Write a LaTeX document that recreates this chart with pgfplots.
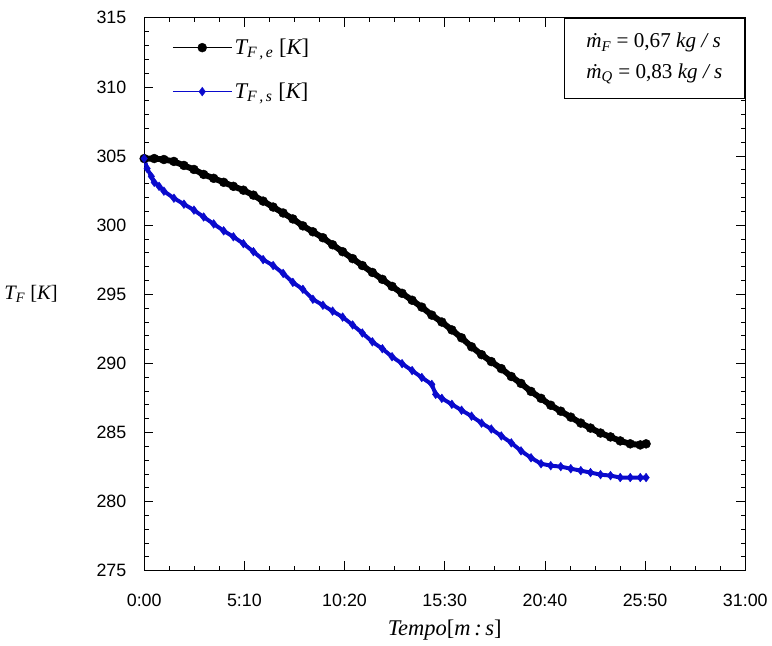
\documentclass[border=0pt]{standalone}
\usepackage{fontspec}
\setmainfont{Liberation Sans}
\newfontfamily\tnr{Liberation Serif}
\usepackage{pgfplots}
\pgfplotsset{compat=1.18}
\definecolor{serieblue}{RGB}{10,10,205}

\pgfplotstableread{
t T
0 304.82
31 304.82
61 304.75
92 304.61
123 304.32
154 304.03
184 303.67
215 303.39
246 303.10
276 302.81
307 302.53
338 302.17
368 301.74
399 301.31
430 300.88
460 300.45
491 299.95
522 299.52
553 299.09
583 298.58
614 298.08
645 297.58
675 297.08
706 296.58
737 296.08
767 295.57
798 295.07
829 294.57
859 294.07
890 293.49
921 292.99
952 292.42
982 291.85
1013 291.20
1044 290.63
1074 290.13
1105 289.62
1136 289.05
1166 288.55
1197 287.97
1228 287.47
1258 286.97
1289 286.54
1320 286.11
1351 285.68
1381 285.32
1412 284.96
1443 284.68
1473 284.39
1504 284.18
1535 284.10
1553 284.18
}\entrada

\pgfplotstableread{
t T
0 304.82
9 304.10
22 303.53
31 303.10
46 302.81
61 302.46
92 301.95
123 301.52
154 301.09
184 300.59
215 300.09
246 299.59
276 299.16
307 298.66
338 298.08
368 297.51
399 297.08
430 296.51
460 295.86
491 295.36
522 294.64
553 294.21
583 293.78
614 293.35
645 292.78
675 292.20
706 291.56
737 291.06
767 290.48
798 289.98
829 289.48
859 288.98
890 288.48
902 287.76
921 287.47
952 287.04
982 286.61
1013 286.18
1044 285.68
1074 285.25
1105 284.75
1136 284.25
1166 283.67
1197 283.17
1228 282.74
1258 282.60
1289 282.53
1320 282.38
1351 282.24
1381 282.10
1412 281.95
1443 281.88
1473 281.74
1504 281.74
1535 281.74
1553 281.74
}\saida

\begin{document}
\begin{tikzpicture}
\begin{axis}[
    name=ax,
    scale only axis,
    width=455pt, height=418.5pt,
    xmin=0, xmax=1860, ymin=275, ymax=315,
    xtick={0,310,620,930,1240,1550,1860},
    xticklabels={0:00,5:10,10:20,15:30,20:40,25:50,31:00},
    ytick={275,280,...,315},
    minor x tick num=3, minor y tick num=4,
    major tick length=7pt, minor tick length=3.5pt,
    tick style={black, line width=0.6pt},
    axis line style={line width=0.8pt},
    /pgf/number format/assume math mode=true,
    tick label style={font=\fontsize{13.5}{15}\selectfont},
    xticklabel style={yshift=-14pt},
    yticklabel style={xshift=-10pt},
    xlabel={\tnr\itshape Tempo\upshape[\itshape m\,:\,s\upshape]},
    every axis x label/.style={at={(axis description cs:0.5,0)}, anchor=north, yshift=-34pt,
        font=\fontsize{17}{19}\selectfont},
    ylabel={\tnr\itshape T\textsubscript{F}\ \upshape[\itshape K\upshape]},
    every axis y label/.style={at={(axis description cs:0,0.5)}, anchor=east, xshift=-62pt,
        font=\fontsize{15.5}{17}\selectfont},
    legend cell align=left,
    legend style={draw=none, fill=none, at={(axis description cs:0.04,0.972)},
        anchor=north west, row sep=16pt, font=\fontsize{17}{19}\selectfont},
    legend image code/.code={
        \draw[mark repeat=2, mark phase=2, #1, line width=0.7pt]
        plot coordinates {(0cm,0cm) (0.78cm,0cm) (1.56cm,0cm)};
    },
]
\addplot[black, line width=4.5pt, mark=*, mark size=3.4pt,
    mark options={line width=0.3pt}] table[x=t, y=T] {\entrada};
\addlegendentry{\tnr\itshape T\textsubscript{F\,,\,e}\ \upshape[\itshape K\upshape]}
\addplot[serieblue, line width=3pt, mark=diamond*, mark size=3.3pt,
    mark options={line width=0.3pt}] table[x=t, y=T] {\saida};
\addlegendentry{\tnr\itshape T\textsubscript{F\,,\,s}\ \upshape[\itshape K\upshape]}
\node[draw, line width=0.6pt, fill=white, anchor=north east, align=left,
    minimum width=137pt, minimum height=61pt, inner xsep=6pt,
    font=\tnr\fontsize{16}{23}\selectfont] at (rel axis cs:1,1)
    {\itshape\.m\textsubscript{F} \upshape= 0,67 \itshape kg / s\\
     \itshape\.m\textsubscript{Q} \upshape= 0,83 \itshape kg / s};
\end{axis}
\path (ax.south west) ++(-105pt,-54.75pt) rectangle ([shift={(18.75pt,13.5pt)}]ax.north east);
\end{tikzpicture}
\end{document}
